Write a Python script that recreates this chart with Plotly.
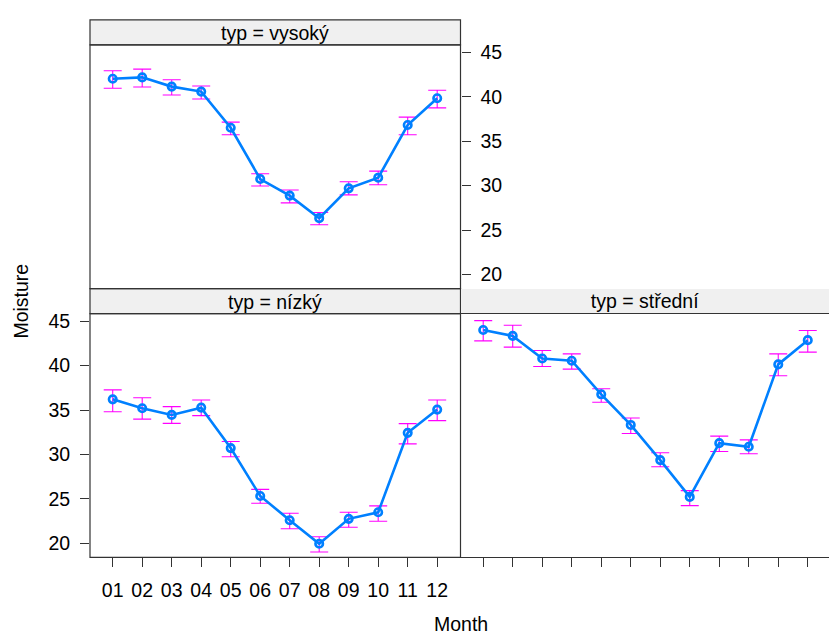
import plotly.graph_objects as go

months = list(range(1, 13))
month_labels = ["01", "02", "03", "04", "05", "06", "07", "08", "09", "10", "11", "12"]
y_ticks = [20, 25, 30, 35, 40, 45]

# typ = nízký
nizky_mean = [36.2, 35.2, 34.45, 35.27, 30.71, 25.32, 22.58, 19.93, 22.74, 23.48, 32.43, 35.05]
nizky_low = [34.8, 33.97, 33.49, 34.37, 29.73, 24.49, 21.62, 19.0, 21.8, 22.47, 31.19, 33.81]
nizky_high = [37.27, 36.39, 35.38, 36.13, 31.45, 26.06, 23.37, 20.72, 23.48, 24.2, 33.47, 36.13]

# typ = střední
stredni_mean = [44.02, 43.35, 40.81, 40.55, 36.77, 33.32, 29.36, 25.21, 31.27, 30.86, 40.14, 42.87]
stredni_low = [42.79, 42.08, 39.91, 39.61, 35.87, 32.35, 28.61, 24.23, 30.33, 30.07, 38.86, 41.52]
stredni_high = [45.07, 44.55, 41.71, 41.33, 37.4, 34.1, 30.18, 25.92, 32.06, 31.64, 41.33, 43.96]

# typ = vysoký
vysoky_mean = [42.05, 42.2, 41.16, 40.6, 36.52, 30.75, 28.88, 26.34, 29.7, 30.9, 36.83, 39.85]
vysoky_low = [40.97, 41.12, 40.22, 39.77, 35.74, 29.96, 28.06, 25.6, 28.96, 30.1, 35.74, 38.76]
vysoky_high = [42.95, 43.13, 41.94, 41.23, 37.16, 31.34, 29.52, 26.97, 30.45, 31.64, 37.72, 40.75]

W, H = 829, 635
FONT = "Liberation Sans, Arial, sans-serif"
FS = 19.5
BORDER = "#333333"
LINE = "#0080ff"
ERR = "#ff00ff"
STRIP = "#f0f0f0"
YR = [18.4, 45.87]

def px_x(p):
    return p / W

def px_y(p):
    return (H - p) / H

xL = [px_x(90), px_x(460.5)]
xR = [px_x(460.5), 1.0]
yB = [px_y(557), px_y(312)]
yT = [px_y(287), px_y(42)]

fig = go.Figure()

def add_series(mean, low, high, xa, ya):
    plus = [h - m for h, m in zip(high, mean)]
    minus = [m - l for m, l in zip(mean, low)]
    fig.add_trace(go.Scatter(
        x=months, y=mean, xaxis=xa, yaxis=ya, mode="lines+markers",
        line=dict(color=LINE, width=2.6),
        marker=dict(symbol="circle-open", size=7.5, color=LINE, line=dict(width=2.6, color=LINE)),
        error_y=dict(type="data", symmetric=False, array=plus, arrayminus=minus,
                     color=ERR, thickness=1.1, width=9),
        showlegend=False, hoverinfo="x+y"))

add_series(nizky_mean, nizky_low, nizky_high, "x", "y")
add_series(stredni_mean, stredni_low, stredni_high, "x2", "y2")
add_series(vysoky_mean, vysoky_low, vysoky_high, "x3", "y3")

tickfont = dict(family=FONT, size=FS, color="black")
common_x = dict(tickvals=months, showgrid=False, zeroline=False,
                ticklen=9, tickcolor=BORDER, tickwidth=1)
common_y = dict(range=YR, tickvals=y_ticks, showgrid=False, zeroline=False, showline=False,
                ticklen=9, tickcolor=BORDER, tickwidth=1)

fig.update_layout(
    width=W, height=H, margin=dict(l=0, r=0, t=0, b=0),
    paper_bgcolor="white", plot_bgcolor="rgba(0,0,0,0)",
    font=dict(family=FONT, size=FS, color="black"),
    xaxis=dict(domain=xL, anchor="y", range=[0.23, 12.79], ticks="outside",
               ticktext=month_labels, showticklabels=True, tickfont=tickfont,
               ticklabelstandoff=6, showline=False, **common_x),
    yaxis=dict(domain=yB, anchor="x", ticks="outside", showticklabels=True,
               tickfont=tickfont, ticklabelstandoff=6, **common_y),
    # right panel: its bottom and top borders come from the axis line (mirrored)
    xaxis2=dict(domain=xR, anchor="y2", range=[0.23, 12.72], ticks="outside",
                showticklabels=False, showline=True, mirror=True,
                linecolor=BORDER, linewidth=1.2, **common_x),
    yaxis2=dict(domain=yB, anchor="x2", ticks="", showticklabels=False, **common_y),
    # line along the top of the right panel's strip
    xaxis5=dict(overlaying="x2", anchor="free", position=px_y(287), side="top",
                range=[0.23, 12.72], ticks="", showticklabels=False, showline=True,
                linecolor=BORDER, linewidth=1.2, **common_x),
    xaxis3=dict(domain=xL, anchor="y3", range=[0.23, 12.79], ticks="",
                showticklabels=False, showline=False, **common_x),
    yaxis3=dict(domain=yT, anchor="x3", side="right", ticks="outside",
                showticklabels=True, tickfont=tickfont, ticklabelstandoff=6, **common_y),
    xaxis4=dict(overlaying="x3", anchor="free", position=px_y(17), side="top",
                range=[0.23, 12.79], ticks="outside", showticklabels=False,
                showline=False, **common_x),
    yaxis4=dict(overlaying="y3", anchor="x3", side="left", ticks="outside",
                showticklabels=False, **common_y),
)

shapes = []
def rect(x0, y0, x1, y1, fill=None):
    shapes.append(dict(type="rect", xref="paper", yref="paper",
                       x0=px_x(x0), x1=px_x(x1), y0=px_y(y1), y1=px_y(y0),
                       line=dict(color=BORDER, width=1.2),
                       fillcolor=fill if fill else "rgba(0,0,0,0)",
                       layer="below" if fill else "above"))

# strips and borders of the left column
rect(90, 17, 460.5, 42, STRIP)
rect(90, 287, 460.5, 312, STRIP)
rect(90, 42, 460.5, 287)
rect(90, 312, 460.5, 557)
fig.update_layout(shapes=shapes)

ann = []
def text(x, y, s, angle=0, **kw):
    ann.append(dict(x=px_x(x), y=px_y(y), xref="paper", yref="paper", text=s,
                    showarrow=False, textangle=angle, xanchor="center", yanchor="middle",
                    font=dict(family=FONT, size=FS, color="black"), **kw))

text(275.25, 30, "typ = vysoký")
text(275.25, 300, "typ = nízký")
# right strip: the annotation box supplies the grey strip background
text(644.75, 299.5, "typ = střední", width=368, height=23.5, bgcolor=STRIP,
     borderwidth=0, borderpad=0, align="center", valign="middle")
text(460.5, 624, "Month")
text(21, 300, "Moisture", angle=-90)
fig.update_layout(annotations=ann)

fig.write_html("out.html")
